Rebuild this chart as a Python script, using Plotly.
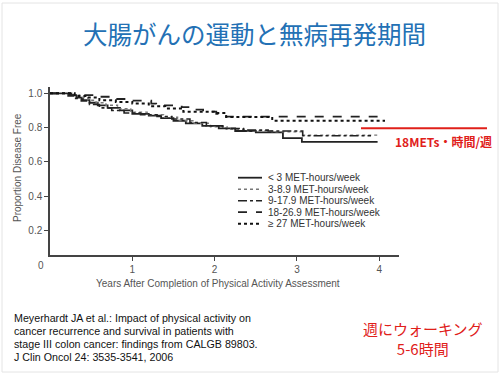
import plotly.graph_objects as go

# ---- data ----
series_names = ["< 3 MET-hours/week", "3-8.9 MET-hours/week", "9-17.9 MET-hours/week",
                "18-26.9 MET-hours/week", "≥ 27 MET-hours/week"]

t_lt3 = [0, 0.24, 0.32, 0.40, 0.48, 0.58, 0.70, 0.85, 1.00, 1.20, 1.35, 1.50, 1.65, 1.85, 2.05, 2.25, 2.50, 2.83, 3.06, 3.98]
s_lt3 = [1.0, 0.99, 0.975, 0.96, 0.945, 0.93, 0.915, 0.90, 0.88, 0.87, 0.855, 0.84, 0.825, 0.81, 0.795, 0.78, 0.772, 0.738, 0.716, 0.716]

t_3_9 = [0, 0.26, 0.36, 0.46, 0.56, 0.68, 0.82, 0.98, 1.18, 1.38, 1.55, 1.75, 1.95, 2.15, 2.40, 2.70, 3.07, 3.98]
s_3_9 = [1.0, 0.99, 0.975, 0.96, 0.945, 0.93, 0.91, 0.89, 0.875, 0.86, 0.84, 0.825, 0.805, 0.79, 0.78, 0.775, 0.756, 0.756]

t_9_18 = [0, 0.22, 0.30, 0.38, 0.48, 0.60, 0.75, 0.90, 1.10, 1.30, 1.48, 1.70, 1.90, 2.10, 2.35, 2.65, 3.07, 3.90]
s_9_18 = [1.0, 0.985, 0.97, 0.955, 0.935, 0.915, 0.90, 0.885, 0.875, 0.865, 0.85, 0.83, 0.81, 0.795, 0.785, 0.78, 0.752, 0.752]

t_18_27 = [0, 0.26, 0.54, 0.77, 0.97, 1.23, 1.29, 1.60, 1.78, 1.86, 2.02, 2.14, 3.98]
s_18_27 = [1.0, 0.99, 0.98, 0.967, 0.957, 0.94, 0.93, 0.92, 0.905, 0.893, 0.88, 0.864, 0.864]

t_27 = [0, 0.30, 0.45, 0.60, 0.80, 1.00, 1.20, 1.40, 1.62, 1.99, 2.14, 2.70, 4.07]
s_27 = [1.0, 0.985, 0.975, 0.96, 0.95, 0.94, 0.925, 0.912, 0.893, 0.885, 0.862, 0.84, 0.84]

x_ticks = [1, 2, 3, 4]
y_ticks = [0.2, 0.4, 0.6, 0.8, 1.0]

title_text = "大腸がんの運動と無病再発期間"
x_title = "Years After Completion of Physical Activity Assessment"
y_title = "Proportion Disease Free"
met_label = "<b>18METs・時間/週</b>"
walk_label = "週にウォーキング<br>5-6時間"
citation = ["Meyerhardt JA et al.: Impact of physical activity on",
            "cancer recurrence and survival in patients with",
            "stage III colon cancer: findings from CALGB 89803.",
            "J Clin Oncol 24: 3535-3541, 2006"]

# ---- styles ----
styles = [
    dict(color="#222222", width=1.8, dash="solid"),
    dict(color="#777777", width=1.4, dash="dot"),
    dict(color="#222222", width=1.6, dash="dashdot"),
    dict(color="#222222", width=1.8, dash="dash"),
    dict(color="#111111", width=2.0, dash="dot"),
]
curves = [(t_lt3, s_lt3), (t_3_9, s_3_9), (t_9_18, s_9_18), (t_18_27, s_18_27), (t_27, s_27)]

fig = go.Figure()
for (t, s), name, st in zip(curves, series_names, styles):
    fig.add_trace(go.Scatter(x=t, y=s, mode="lines", line=dict(shape="hv", **st),
                             name=name, showlegend=False, hoverinfo="skip"))

# plot area in pixels: x 50..399, y 87..255
L, R, T, B = 50, 399, 87, 255
W, H = 500, 376
def px(xp):
    return (xp - L) / (R - L)
def py(yp):
    return (B - yp) / (B - T)

fig.update_layout(
    width=W, height=H,
    margin=dict(l=L, r=W - R, t=T, b=H - B),
    paper_bgcolor="white", plot_bgcolor="white",
    font=dict(family="Liberation Sans, Arial, sans-serif", color="#555555", size=10),
    showlegend=False,
)
fig.update_xaxes(range=[0, 4.24], showline=True, linecolor="#444444", linewidth=1.5,
                 showgrid=False, zeroline=False, ticks="outside", ticklen=4, tickwidth=1,
                 tickcolor="#444444", tickvals=x_ticks, ticktext=[str(v) for v in x_ticks],
                 tickfont=dict(size=10, color="#555555"))
fig.update_yaxes(range=[0.056, 1.037], showline=True, linecolor="#444444", linewidth=1.5,
                 showgrid=False, zeroline=False, ticks="outside", ticklen=4, tickwidth=1,
                 tickcolor="#444444", tickvals=y_ticks, ticktext=[f"{v:.1f}" for v in y_ticks],
                 tickfont=dict(size=10, color="#555555"))

ann = []
# title
ann.append(dict(text=title_text, x=px(254), y=py(33), xref="paper", yref="paper",
                showarrow=False, xanchor="center", yanchor="middle",
                font=dict(family="Noto Sans CJK JP", size=24.5, color="#2371b5")))
# axis titles
ann.append(dict(text=x_title, x=px(218), y=py(283), xref="paper", yref="paper",
                showarrow=False, xanchor="center", yanchor="middle",
                font=dict(size=10, color="#555555")))
ann.append(dict(text=y_title, x=px(17), y=py(168), xref="paper", yref="paper",
                showarrow=False, xanchor="center", yanchor="middle", textangle=-90,
                font=dict(size=10, color="#555555")))
# origin label
ann.append(dict(text="0", x=px(41), y=py(265), xref="paper", yref="paper",
                showarrow=False, xanchor="center", yanchor="middle",
                font=dict(size=10, color="#555555")))

# manual legend
shapes = []
leg_y0, leg_dy = 177.7, 11.5
for i, (name, st) in enumerate(zip(series_names, styles)):
    yy = leg_y0 + i * leg_dy
    shapes.append(dict(type="line", xref="paper", yref="paper",
                       x0=px(238), x1=px(262), y0=py(yy), y1=py(yy),
                       line=dict(color=st["color"], width=st["width"], dash=st["dash"])))
    ann.append(dict(text=name, x=px(266), y=py(yy), xref="paper", yref="paper",
                    showarrow=False, xanchor="left", yanchor="middle",
                    font=dict(size=10, color="#333333")))

# red reference line and label
shapes.append(dict(type="line", xref="paper", yref="paper", x0=px(361), x1=px(487),
                   y0=py(128.3), y1=py(128.3), line=dict(color="#e0201a", width=2)))
ann.append(dict(text=met_label, x=px(443), y=py(141), xref="paper", yref="paper",
                showarrow=False, xanchor="center", yanchor="middle",
                font=dict(family="Noto Sans CJK JP", size=12, color="#e0201a")))
ann.append(dict(text=walk_label, x=px(423), y=py(338), xref="paper", yref="paper",
                showarrow=False, xanchor="center", yanchor="middle",
                font=dict(family="Noto Sans CJK JP", size=15, color="#e0201a")))

# citation
for i, line in enumerate(citation):
    ann.append(dict(text=line, x=px(12), y=py(318.3 + i * 13), xref="paper", yref="paper",
                    showarrow=False, xanchor="left", yanchor="middle",
                    font=dict(size=10.7, color="#111111")))

# slide frame
shapes.append(dict(type="rect", xref="paper", yref="paper", x0=px(2), x1=px(498),
                   y0=py(372), y1=py(3), line=dict(color="#e4e4e4", width=1), layer="below"))

fig.update_layout(annotations=ann, shapes=shapes)
fig.write_html("out.html", config={"displayModeBar": False},
               post_script="document.body.style.margin='0';")
